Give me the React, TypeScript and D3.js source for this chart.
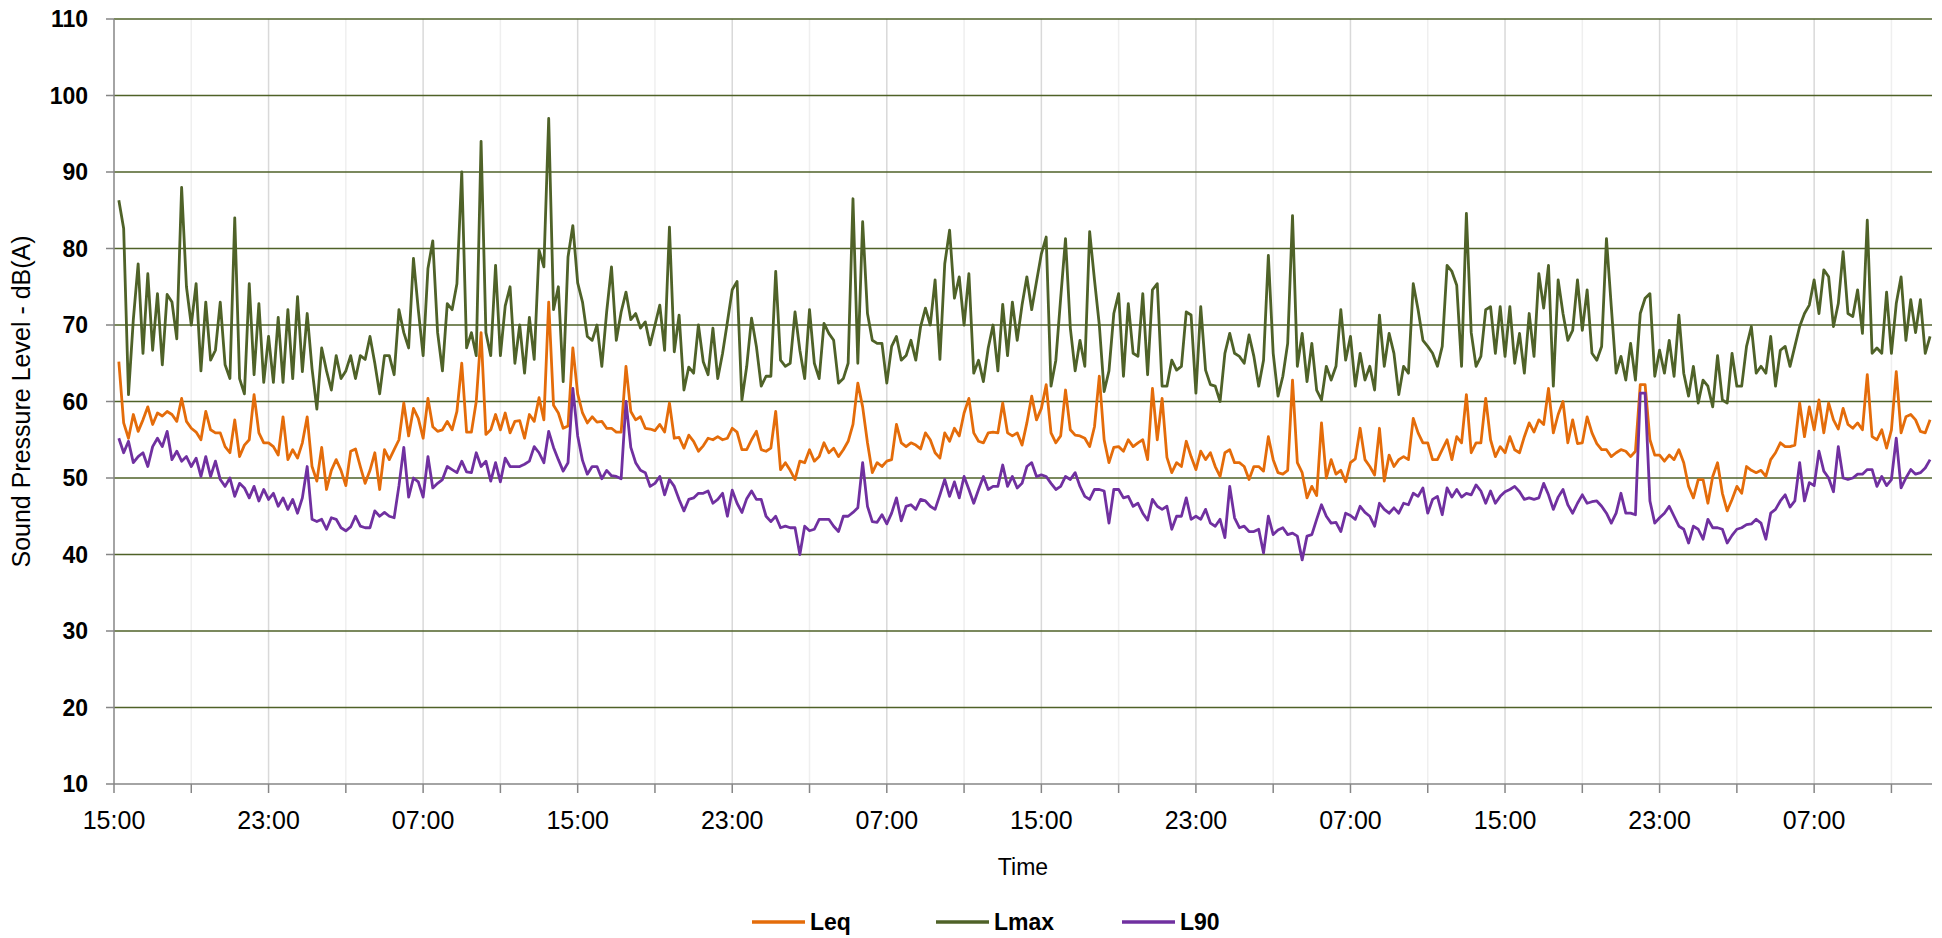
import { useRef, useEffect } from "react";
import * as d3 from "d3";

// Readings every 15 minutes, first one at 15:15 on day 1
const leq: number[] = [
  65.2, 57.2, 55.2, 58.3, 56.1, 57.6, 59.3, 57, 58.5, 58.1,
  58.7, 58.3, 57.4, 60.4, 57.4, 56.5, 56, 55, 58.7, 56.3,
  55.9, 55.9, 54.1, 53.3, 57.6, 52.8, 54.3, 55, 60.9, 55.9,
  54.6, 54.6, 54.1, 53, 58, 52.4, 53.7, 52.6, 54.6, 58,
  51.5,
  49.6, 54, 48.5, 51, 52.4, 51, 49, 53.5, 53.8, 51.5,
  49.3, 51, 53.3, 48.5, 53.7, 52.4, 53.7, 55, 59.8, 55.5,
  59.1, 57.8, 55.2, 60.4, 56.7, 56.1, 56.3, 57.4, 56.3, 58.7,
  65, 56, 56, 60, 69, 55.7, 56.3, 58.3, 56.3, 58.5,
  55.9, 57.4,
  57.5, 55.2, 58.3, 57.4, 60.5, 57.6, 73, 59.5,
  58.5, 56.5, 56.8, 67, 61, 58.5, 57.2, 58, 57.3, 57.4,
  56.5, 56.5, 56, 56, 64.6, 58.7, 57.6, 58, 56.5, 56.4,
  56.2, 57, 56, 59.8, 55.2, 55.3, 53.9, 55.6, 54.8, 53.5,
  54.2, 55.2, 55,
  55.4, 55, 55.2, 56.5, 56, 53.7, 53.7,
  55, 56.1, 53.7, 53.5, 53.9, 58.7, 51.1, 52, 51, 49.8,
  52.2, 52, 53.7, 52.2, 52.8, 54.6, 53.3, 53.9, 52.8, 53.7,
  54.8, 57, 62.4, 59.3, 54.6, 50.7, 52, 51.5, 52.2, 52.4,
  57, 54.6, 54.1, 54.6,
  54.3, 53.8, 55.9, 55, 53.3, 52.6,
  55.9, 54.8, 56.5, 55.5, 58.5, 60.4, 55.9, 54.8, 54.6, 55.9,
  56, 55.9, 59.8, 55.9, 55.5, 55.9, 54.3, 57.2, 60.7, 57.6,
  59.1, 62.2, 55.9, 54.6, 55.5, 61.5, 56.3, 55.6, 55.5, 55.2,
  54.1, 56.7, 63.3, 55, 52, 54,
  54.1, 53.5, 55, 54.1,
  54.6, 55, 52.4, 61.7, 55, 60.4, 52.7, 50.7, 52, 51.5,
  54.8, 52.8, 51.1, 53.5, 52.4, 53.3, 51.5, 50.2, 53.3, 53.7,
  52, 52, 51.5, 49.8, 51.5, 51.5, 50.9, 55.4, 52.4, 50.7,
  50.5, 51, 62.8, 52, 50.7, 47.4, 48.9,
  47.7, 57.2, 50,
  52.4, 50.5, 51, 49.5, 52, 52.5, 56.5, 52.4, 51.5, 50.4,
  56.5, 49.6, 53, 51.5, 52.4, 52.8, 52.4, 57.8, 55.9, 54.6,
  54.6, 52.4, 52.4, 53.7, 55, 52.4, 55.4, 54.6, 60.9, 53.3,
  54.6, 54.6, 60.4, 55, 52.8, 54.1, 53.3, 55.4, 53.7,
  53.3,
  55.4, 57.2, 56, 57.6, 57, 61.7, 55.9, 58.3, 60, 54.6,
  57.6, 54.5, 54.6, 58, 55.9, 54.5, 53.7, 53.7, 52.8, 53.3,
  53.7, 53.5, 52.8, 53.5, 62.2, 62.2, 55, 53, 53, 52.2,
  53, 52.4, 53.7, 52, 48.9, 47.4, 49.8, 49.8, 46.7, 50.2,
  52, 48, 45.7, 47.2, 48.9, 48, 51.5, 51, 50.7, 51,
  50.2, 52.4, 53.3, 54.6, 54.1, 54.1, 54.3, 59.8, 55.4, 59.3,
  56.3, 60.2, 55.9, 59.8, 57.6, 56.4, 59.1, 57, 56.5, 57.2,
  56.3, 63.5, 55.4, 55, 56.3, 53.9, 56.3, 63.9, 55.9, 58,
  58.3, 57.6, 56.1, 55.9, 57.6,
];

const lmax: number[] = [
  86.3, 82.6, 60.9, 70.7, 78, 66.3, 76.7, 66.7, 74.1, 64.8,
  74, 73, 68.2, 88, 75, 70, 75.4, 64, 73, 65.4,
  66.7, 73, 64.8, 63, 84, 63, 61, 75.4, 63.5, 72.8,
  62.5, 68.5, 62.5, 71, 62.5, 72, 63, 73.7, 63.9, 71.5,
  64.3,
  59, 67, 64, 61.5, 66, 63, 64, 66, 63, 66,
  65.5, 68.5, 65, 61, 66, 66, 63.5, 72, 69, 67,
  78.7, 72, 66, 77.4, 81, 69, 64, 72.8, 72, 75.4,
  90, 67, 69, 66, 94, 69, 66, 77.8, 66, 72.5,
  75, 65,
  70, 63.7, 71, 65.5, 79.8, 77.6, 97, 72,
  75, 62.6, 78.9, 83, 75.5, 73, 68.5, 68, 70, 64.6,
  71.7, 77.6, 68, 71.7, 74.3, 70.7, 71.5, 69.6, 70.4, 67.4,
  70, 72.6, 66.7, 82.8, 66.5, 71.3, 61.5, 64.5, 63.7, 70,
  65.2, 63.5, 69.6,
  63, 66.3, 70.4, 74.6, 75.7, 60.2, 64.6,
  70.9, 67.2, 62, 63.3, 63.3, 77, 65.4, 64.6, 65, 71.7,
  66.7, 63, 72, 65, 63, 70.2, 68.9, 68, 62.4, 63,
  65, 86.5, 65, 83.5, 71.5, 68, 67.6, 67.6, 62.4, 67.2,
  68.5, 65.4, 66, 68,
  65.4, 69.8, 72.2, 70, 75.9, 65.5,
  78, 82.4, 73.5, 76.3, 70, 76.7, 63.7, 65.4, 62.6, 67,
  70, 64, 72.7, 66, 73, 68, 72.6, 76.3, 72, 75.7,
  79.3, 81.5, 62, 65.4, 73.5, 81.3, 69.6, 64, 68, 64.6,
  82.2, 75.9, 70, 61.3, 64, 71.5,
  74.1, 63.3, 72.8, 66.3,
  65.9, 74.1, 63.5, 74.6, 75.4, 62, 62, 65.4, 64.1, 64.6,
  71.7, 71.3, 61.1, 72.4, 64.1, 62.2, 62, 60, 66.3, 68.9,
  66.3, 65.9, 65, 68.7, 65.9, 62, 65.4, 79.1, 66.3, 60.7,
  63.3, 67.6, 84.3, 64.6, 68.9, 62.6, 67.6,
  61.5, 60.2, 64.6,
  62.8, 64.6, 72, 65.4, 68.5, 62, 66.3, 62.8, 64.6, 61.5,
  71.3, 64.6, 68.9, 66.3, 60.9, 64.6, 63.7, 75.4, 72, 68,
  67.2, 66.3, 64.6, 67.2, 77.8, 77, 75.2, 64.6, 84.6, 69,
  64.6, 65.9, 72, 72.4, 66.3, 72.4, 65.9, 72.4, 65,
  68.9,
  63.7, 71.5, 65.9, 76.7, 72.2, 77.8, 62, 75.9, 71.5, 68,
  69.3, 75.9, 69.3, 74.6, 66.3, 65.4, 67.2, 81.3, 72.4, 63.7,
  65.9, 62.8, 67.6, 62.8, 71.5, 73.5, 74.1, 63.3, 66.7, 63.7,
  68, 63.3, 71.3, 63.7, 60.7, 64.6, 59.8, 62.8, 62, 59.3,
  66, 60.2, 59.8, 66.3, 62, 62, 67.2, 69.8, 63.7, 64.6,
  63.7, 68.5, 62, 66.7, 67.2, 64.6, 67.2, 69.8, 71.5, 72.6,
  75.9, 71.5, 77.2, 76.3, 69.8, 72.8, 79.6, 71.5, 71.1, 74.6,
  68.9, 83.7, 66.3, 67, 66.3, 74.3, 66.3, 72.8, 76.3, 68,
  73.3, 69, 73.3, 66.3, 68.5,
];

const l90: number[] = [
  55.2, 53.3, 54.8, 52, 52.8, 53.3, 51.5, 54.1, 55.2, 54.1,
  56.1, 52.4, 53.5, 52.2, 52.8, 51.5, 52.6, 50.2, 52.8, 50.2,
  52.2, 49.8, 48.9, 50, 47.6, 49.3, 48.7, 47.4, 48.9, 47,
  48.5, 47.2, 48, 46.3, 47.4, 45.9, 47.2, 45.4, 47.4, 51.5,
  44.6,
  44.3, 44.6, 43.3, 44.8, 44.6, 43.5, 43.1, 43.6, 45, 43.7,
  43.5, 43.5, 45.7, 45, 45.5, 45, 44.8, 49, 54, 47.5,
  50, 49.5, 47.5, 52.8, 48.7, 49.3, 49.8, 51.5, 51.1, 50.7,
  52.2, 50.8, 50.7, 53.3, 51.5, 52.2, 49.6, 52, 49.5, 52.6,
  51.5, 51.5,
  51.5, 51.8, 52.2, 54.1, 53.3, 52, 56.1, 54,
  52.4, 50.9, 52, 61.7, 55.5, 52.3, 50.5, 51.5, 51.5, 49.9,
  51, 50.3, 50.2, 49.9, 60, 54, 52, 51, 50.7, 48.9,
  49.3, 50.2, 47.8, 49.8, 48.9, 47.2, 45.7, 47.2, 47.4, 48,
  48, 48.3, 46.7,
  47.2, 48, 45, 48.4, 46.7, 45.5, 47.3,
  48.3, 47.2, 47.2, 45, 44.3, 45, 43.5, 43.7, 43.5, 43.5,
  40, 43.7, 43.1, 43.3, 44.6, 44.6, 44.6, 43.7, 43, 45,
  45, 45.5, 46.1, 52, 46.3, 44.3, 44.2, 45.2, 44, 45.4,
  47.4, 44.4, 46.3, 46.5,
  45.9, 47.2, 47, 46.3, 45.9, 47.8,
  49.8, 47.6, 49.5, 47.4, 50.2, 48.5, 46.7, 48.5, 50.2, 48.5,
  48.9, 48.9, 51.7, 48.9, 50.2, 48.7, 49.3, 51.5, 52, 50.2,
  50.4, 50.2, 49.3, 48.5, 48.9, 50.2, 49.8, 50.7, 48.9, 47.6,
  47.2, 48.5, 48.5, 48.3, 44.1, 48.5,
  48.5, 47.4, 47.6, 46.3,
  46.7, 45.4, 44.5, 47.2, 46.3, 45.9, 46.3, 43.3, 45, 45,
  47.4, 44.6, 45, 44.6, 45.9, 44.1, 43.7, 44.6, 42.2, 48.9,
  44.8, 43.5, 43.7, 43, 43, 43.3, 40.2, 45, 42.6, 43.2,
  43.5, 42.6, 42.8, 42.4, 39.3, 42.4, 42.6,
  44.6, 46.5, 45,
  44.1, 44.2, 43, 45.4, 45.1, 44.6, 46.3, 45.5, 45, 43.7,
  46.7, 45.9, 45.4, 46.1, 45.4, 46.7, 46.5, 48, 47.6, 48.7,
  45.4, 47.2, 47.6, 45.2, 48.7, 47.5, 48.5, 47.5, 48, 47.8,
  49.1, 48.3, 46.7, 48.3, 46.7, 47.6, 48.2, 48.5, 48.9,
  48.2,
  47.2, 47.4, 47.2, 47.4, 49.3, 47.8, 45.9, 47.5, 48.5, 46.5,
  45.4, 46.7, 47.8, 46.7, 46.9, 47, 46.3, 45.4, 44.1, 45.4,
  48, 45.4, 45.4, 45.2, 61.1, 61.1, 47, 44.1, 44.8, 45.4,
  46.3, 45, 43.7, 43.3, 41.5, 43.7, 43.3, 42, 44.6, 43.5,
  43.5, 43.3, 41.5, 42.5, 43.3, 43.5, 43.9, 44, 44.6, 44.1,
  42, 45.4, 45.9, 47, 47.8, 46.2, 47, 52, 47, 49.4,
  49, 53.5, 50.9, 50, 48.2, 54.1, 50, 49.8, 50, 50.5,
  50.5, 51.1, 51.1, 48.9, 50.2, 49, 49.8, 55.2, 48.7, 50,
  51.1, 50.5, 50.7, 51.3, 52.4,
];

const seriesNames = ["Leq", "Lmax", "L90"];
const seriesColors = ["#E46C0A", "#4F6228", "#7030A0"];

const yTicks = [10, 20, 30, 40, 50, 60, 70, 80, 90, 100, 110];
// one label every 8 hours from 15:00
const xTickLabels = [
  "15:00", "23:00", "07:00", "15:00", "23:00", "07:00",
  "15:00", "23:00", "07:00", "15:00", "23:00", "07:00",
];

const App = () => {
  const svgRef = useRef<SVGSVGElement>(null);

  useEffect(() => {
    const svg = d3.select(svgRef.current);
    svg.selectAll("*").remove();

    const left = 114;
    const right = 1932;
    const top = 19;
    const bottom = 784;
    const font = "'Liberation Sans', Arial, sans-serif";

    const start = new Date(2021, 0, 1, 15, 0);
    const timeOf = (i: number) => d3.timeMinute.offset(start, (i + 1) * 15);

    // Escala de tiempo
    const x = d3
      .scaleTime()
      .domain([start, d3.timeMinute.offset(start, 5646)])
      .range([left, right]);

    const y = d3.scaleLinear().domain([10, 110]).range([bottom, top]);

    // vertical gridlines every 4 hours
    const steps = d3.range(1, 24);
    svg
      .append("g")
      .selectAll("line")
      .data(steps)
      .enter()
      .append("line")
      .attr("x1", (k) => x(d3.timeHour.offset(start, 4 * k)))
      .attr("x2", (k) => x(d3.timeHour.offset(start, 4 * k)))
      .attr("y1", top)
      .attr("y2", bottom)
      .attr("stroke", (k) => (k % 2 === 0 ? "#d9d9d9" : "#efefef"))
      .attr("stroke-width", 1.5);

    // horizontal gridlines
    svg
      .append("g")
      .selectAll("line")
      .data(yTicks.slice(1))
      .enter()
      .append("line")
      .attr("x1", left)
      .attr("x2", right)
      .attr("y1", (d) => y(d))
      .attr("y2", (d) => y(d))
      .attr("stroke", "#4F6228")
      .attr("stroke-width", 1.5);

    // axes
    const axisColor = "#868686";
    svg
      .append("line")
      .attr("x1", left)
      .attr("x2", left)
      .attr("y1", top)
      .attr("y2", bottom)
      .attr("stroke", axisColor)
      .attr("stroke-width", 1.5);
    svg
      .append("line")
      .attr("x1", left)
      .attr("x2", right)
      .attr("y1", bottom)
      .attr("y2", bottom)
      .attr("stroke", axisColor)
      .attr("stroke-width", 1.5);

    svg
      .append("g")
      .selectAll("line")
      .data(yTicks)
      .enter()
      .append("line")
      .attr("x1", left - 8)
      .attr("x2", left)
      .attr("y1", (d) => y(d))
      .attr("y2", (d) => y(d))
      .attr("stroke", axisColor)
      .attr("stroke-width", 1.5);

    svg
      .append("g")
      .selectAll("line")
      .data(d3.range(0, 24))
      .enter()
      .append("line")
      .attr("x1", (k) => x(d3.timeHour.offset(start, 4 * k)))
      .attr("x2", (k) => x(d3.timeHour.offset(start, 4 * k)))
      .attr("y1", bottom)
      .attr("y2", bottom + 9)
      .attr("stroke", axisColor)
      .attr("stroke-width", 1.5);

    // tick labels
    svg
      .append("g")
      .selectAll("text")
      .data(yTicks)
      .enter()
      .append("text")
      .attr("x", 88)
      .attr("y", (d) => y(d))
      .attr("dy", "0.36em")
      .attr("text-anchor", "end")
      .attr("font-family", font)
      .attr("font-weight", "bold")
      .attr("font-size", 23)
      .text((d) => d);

    svg
      .append("g")
      .selectAll("text")
      .data(xTickLabels)
      .enter()
      .append("text")
      .attr("x", (d, i) => x(d3.timeHour.offset(start, 8 * i)))
      .attr("y", 829)
      .attr("text-anchor", "middle")
      .attr("font-family", font)
      .attr("font-size", 25)
      .text((d) => d);

    // axis titles
    svg
      .append("text")
      .attr("transform", `translate(30, ${(top + bottom) / 2}) rotate(-90)`)
      .attr("text-anchor", "middle")
      .attr("font-family", font)
      .attr("font-size", 25)
      .text("Sound Pressure Level - dB(A)");

    svg
      .append("text")
      .attr("x", (left + right) / 2)
      .attr("y", 875)
      .attr("text-anchor", "middle")
      .attr("font-family", font)
      .attr("font-size", 23)
      .text("Time");

    // series
    const line = d3
      .line<number>()
      .x((d, i) => x(timeOf(i)))
      .y((d) => y(d));

    [leq, lmax, l90].forEach((values, s) => {
      svg
        .append("path")
        .datum(values)
        .attr("d", line)
        .attr("fill", "none")
        .attr("stroke", seriesColors[s])
        .attr("stroke-width", 2.8)
        .attr("stroke-linejoin", "round");
    });

    // legend
    const legendX = [752, 936, 1122];
    const legend = svg
      .append("g")
      .selectAll("g")
      .data(seriesNames)
      .enter()
      .append("g")
      .attr("transform", (d, i) => `translate(${legendX[i]}, 922)`);
    legend
      .append("line")
      .attr("x1", 0)
      .attr("x2", 53)
      .attr("stroke", (d, i) => seriesColors[i])
      .attr("stroke-width", 3.5);
    legend
      .append("text")
      .attr("x", 58)
      .attr("dy", "0.36em")
      .attr("font-family", font)
      .attr("font-weight", "bold")
      .attr("font-size", 23)
      .text((d) => d);
  }, []);

  return (
    <svg
      ref={svgRef}
      width={1942}
      height={938}
      style={{ position: "absolute", left: 0, top: 0, background: "#fff" }}
    ></svg>
  );
};

export default App;
